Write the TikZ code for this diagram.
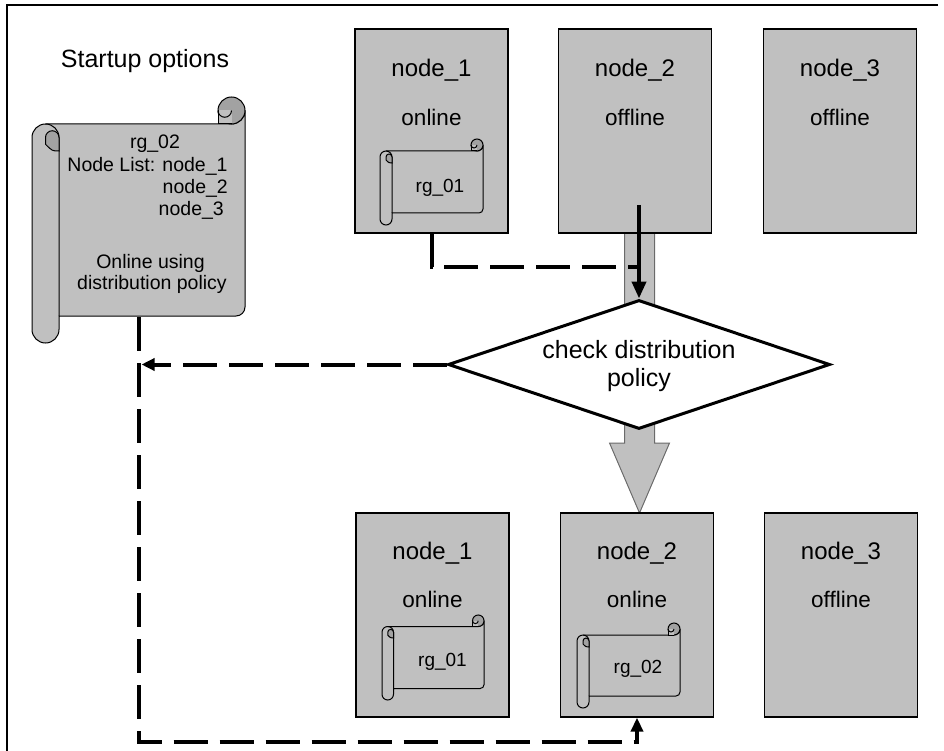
\documentclass[tikz,border=0pt]{standalone}
\usepackage{fontspec}
\setmainfont{Liberation Sans}
\usetikzlibrary{arrows.meta,shapes.geometric,calc}

\definecolor{hostgrey}{HTML}{C0C0C0}
\definecolor{curlgrey}{HTML}{A2A2A2}
\definecolor{shaftedge}{HTML}{6A6A6A}

% Scroll sheet: #1 left, #2 top, #3 right, #4 bottom, #5 roll diameter
\newcommand\drawscroll[5]{%
  \pgfmathsetmacro\scL{#1}%
  \pgfmathsetmacro\scT{#2}%
  \pgfmathsetmacro\scR{#3}%
  \pgfmathsetmacro\scB{#4}%
  \pgfmathsetmacro\scD{#5}%
  \pgfmathsetmacro\scH{#5/2}%
  \pgfmathsetmacro\scQ{#5/4}%
  \pgfmathsetmacro\scC{#5/3}%
  % sheet with its rolled left edge
  \draw[scrolledge,fill=hostgrey]
    (\scL,\scT+\scD+\scH) arc[start angle=180,end angle=270,radius=\scH]
    -- (\scR-\scH,\scT+\scD) arc[start angle=90,end angle=0,radius=\scH]
    -- (\scR,\scB-\scD-\scC) arc[start angle=0,end angle=90,radius=\scC]
    -- (\scL+\scD,\scB-\scD) -- (\scL+\scD,\scB-\scH)
    arc[start angle=0,end angle=180,radius=\scH] -- cycle;
  % inner edge of the left roll
  \draw[scrolledge] (\scL+\scH,\scT+\scD) arc[start angle=270,end angle=360,radius=\scH]
    -- (\scL+\scD,\scB-\scD);
  % roll at the top right
  \draw[scrolledge,fill=curlgrey] (\scR-\scH,\scT+\scH) circle[radius=\scH];
  \fill[hostgrey] (\scR-\scD,\scT+\scH) rectangle (\scR-\scH,\scT+\scD);
  \draw[scrolledge] (\scR-\scD,\scT+\scH) -- (\scR-\scD,\scT+\scD) -- (\scR-\scH,\scT+\scD);
  \draw[scrolledge] (\scR-\scH,\scT+\scH) arc[start angle=0,end angle=180,radius=\scQ];
  % curl at the top of the left roll
  \filldraw[scrolledge,fill=curlgrey]
    (\scL+\scH,\scT+\scD+\scH+\scQ) -- (\scL+\scH,\scT+\scD+\scH)
    arc[start angle=180,end angle=360,radius=\scQ]
    -- (\scL+\scD,\scT+\scD+\scD)
    .. controls (\scL+\scH+\scQ,\scT+\scD+\scD) .. (\scL+\scH,\scT+\scD+\scH+\scQ) -- cycle;
}

\begin{document}
\begin{tikzpicture}[x=1pt,y=-1pt,
  frame/.style={line width=1.3pt},
  hostbox/.style={draw, line width=1.2pt, fill=hostgrey, inner sep=0pt,
    minimum width=153pt, minimum height=204pt},
  hostname/.style={anchor=base, inner sep=0pt, font=\fontsize{24}{28}\selectfont},
  hoststate/.style={anchor=base, inner sep=0pt, font=\fontsize{22.5}{26}\selectfont},
  rglabel/.style={anchor=base, inner sep=0pt, font=\fontsize{19}{22}\selectfont},
  scrolltext/.style={anchor=base, inner sep=0pt, font=\fontsize{19.5}{23}\selectfont},
  bigtext/.style={anchor=base, inner sep=0pt, font=\fontsize{25}{29}\selectfont},
  scrolledge/.style={line width=1pt},
  decision/.style={diamond, draw, line width=3pt, fill=white, inner sep=0pt,
    minimum width=382pt, minimum height=129pt},
  bigarrow/.style={draw=shaftedge, line width=1pt, fill=hostgrey},
  flowdash/.style={line width=4pt, dash pattern=on 34pt off 12pt},
  flowsolid/.style={line width=4pt}
]
\useasboundingbox (0,0) rectangle (944,751);

% outer frame
\draw[frame] (938,5) -- (7,5) -- (7,751);

% block arrow from the upper node_2 to the lower node_2
\coordinate (bt) at (639.5,233);
\path[bigarrow] ($(bt)+(-15,0)$) -- ($(bt)+(15,0)$) -- ($(bt)+(15,210)$)
  -- ($(bt)+(30,210)$) -- ($(bt)+(0,280)$) -- ($(bt)+(-30,210)$)
  -- ($(bt)+(-15,210)$) -- cycle;

% cluster nodes, before
\node[hostbox] (n1a) at (431.5,131) {};
\node[hostbox] (n2a) at (635,131) {};
\node[hostbox] (n3a) at (840,131) {};
\node[hostname]  (n1aname)  at ($(n1a.north)+(0,48)$) {node\_1};
\node[hoststate] (n1astate) at ($(n1a.north)+(0,97)$) {online};
\node[hostname]  (n2aname)  at ($(n2a.north)+(0,48)$) {node\_2};
\node[hoststate] (n2astate) at ($(n2a.north)+(0,97)$) {offline};
\node[hostname]  (n3aname)  at ($(n3a.north)+(0,48)$) {node\_3};
\node[hoststate] (n3astate) at ($(n3a.north)+(0,97)$) {offline};

% cluster nodes, after
\node[hostbox] (n1b) at (432.5,615) {};
\node[hostbox] (n2b) at (637,615) {};
\node[hostbox] (n3b) at (841,615) {};
\node[hostname]  (n1bname)  at ($(n1b.north)+(0,47)$) {node\_1};
\node[hoststate] (n1bstate) at ($(n1b.north)+(0,95)$) {online};
\node[hostname]  (n2bname)  at ($(n2b.north)+(0,47)$) {node\_2};
\node[hoststate] (n2bstate) at ($(n2b.north)+(0,95)$) {online};
\node[hostname]  (n3bname)  at ($(n3b.north)+(0,47)$) {node\_3};
\node[hoststate] (n3bstate) at ($(n3b.north)+(0,95)$) {offline};

% resource group scrolls on the nodes
\drawscroll{380}{139}{483}{225}{12}
\node[rglabel] (rg1a) at (440,193) {rg\_01};
\drawscroll{382}{615}{484}{700}{11.5}
\node[rglabel] (rg1b) at (442.5,666) {rg\_01};
\drawscroll{577}{623}{680}{708}{12}
\node[rglabel] (rg2b) at (638,673) {rg\_02};

% startup options scroll
\node[bigtext] (title) at (145,68) {Startup options};
\drawscroll{32}{97}{245}{343}{27}
\node[scrolltext] (sc1) at (155,149) {rg\_02};
\node[scrolltext] (sc2) at (147.5,172) {Node List: node\_1};
\node[scrolltext,anchor=base east] (sc3) at (228,194) {node\_2};
\node[scrolltext,anchor=base east] (sc4) at (224,216) {node\_3};
\node[scrolltext] (sc5) at (150.5,269) {Online using};
\node[scrolltext] (sc6) at (152,289) {distribution policy};

% decision
\node[decision] (chk) at (639,364.5) {};
\node[bigtext] (chk1) at (639,358) {check distribution};
\node[bigtext] (chk2) at (639,386) {policy};

% connectors
\coordinate (stemtop) at (639,205);
\coordinate (merge) at (639,267);
\coordinate (tail) at (138.5,317);
\coordinate (floor) at (138.5,742);

\draw[flowdash] (n1a.south) |- (merge);
\draw[flowdash,-{Triangle[length=13pt,width=12pt]},shorten >=3pt]
  (chk.west) -- (chk.west -| tail);
\draw[flowdash,-{Triangle[length=14pt,width=12pt]}]
  (tail) -- (floor) -| (n2b.south);
\draw[flowsolid,-{Triangle[length=17pt,width=14pt]}] (stemtop) -- (chk.north);
\end{tikzpicture}
\end{document}
